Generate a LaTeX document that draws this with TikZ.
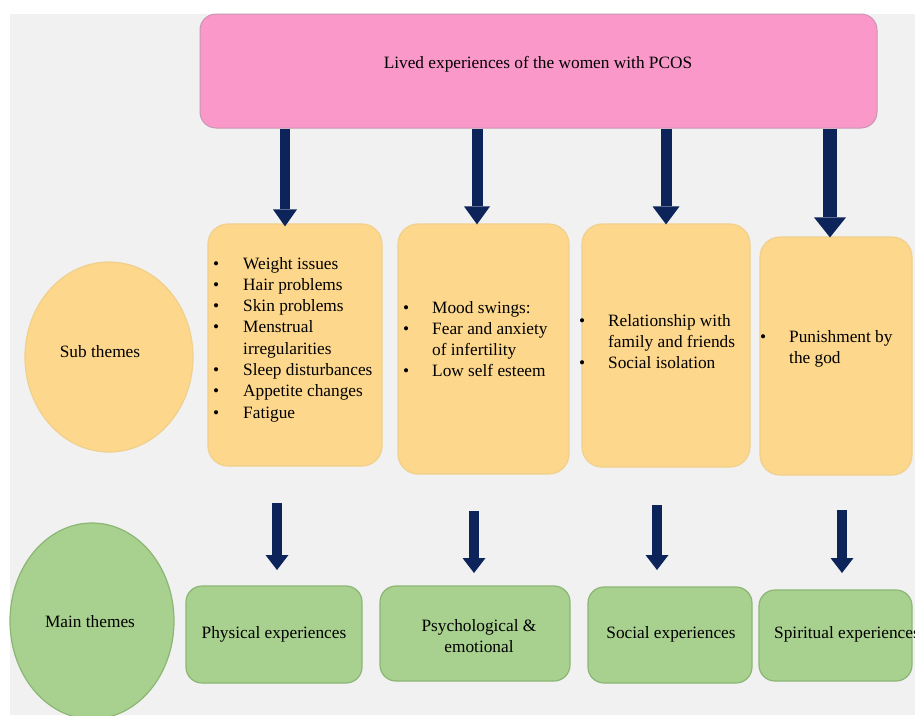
\documentclass[tikz,border=0pt]{standalone}
\usepackage{fontspec}
\setmainfont{Liberation Serif}
\usetikzlibrary{arrows.meta,shapes.geometric,calc}
\definecolor{navy}{RGB}{13,36,90}
\definecolor{pinkfill}{RGB}{250,152,202}
\definecolor{pinkline}{RGB}{200,150,178}
\definecolor{yfill}{RGB}{253,215,140}
\definecolor{yline}{RGB}{240,208,140}
\definecolor{gfill}{RGB}{168,208,142}
\definecolor{gline}{RGB}{140,182,115}
\definecolor{bggray}{RGB}{241,241,241}
\begin{document}
\begin{tikzpicture}[x=1pt,y=-1pt,
  txt/.style={font=\fontsize{17.3}{21.3}\selectfont, inner sep=0pt},
  pbox/.style={draw=pinkline, fill=pinkfill, rounded corners=16pt, line width=1pt},
  ybox/.style={draw=yline, fill=yfill, rounded corners=20pt, line width=1.2pt},
  gbox/.style={draw=gline, fill=gfill, rounded corners=16pt, line width=1.2pt},
  yell/.style={ellipse, draw=yline, fill=yfill, line width=1.2pt},
  gell/.style={ellipse, draw=gline, fill=gfill, line width=1.2pt},
  bigarr/.style n args={3}{draw=navy, line width=#1, -{Triangle[width=#2,length=#3,line width=0pt]}},
]
\useasboundingbox (0,0) rectangle (915,715);
\clip (0,0) rectangle (915,715);
\fill[white] (0,0) rectangle (915,715);
\fill[bggray] (10,14) rectangle (915,715);

% top box
\node[pbox, minimum width=677pt, minimum height=114pt] (top) at (538.5,71) {};
\node[txt] (toptext) at (538,64) {Lived experiences of the women with PCOS};

% sub theme boxes
\node[ybox, minimum width=174pt, minimum height=242pt] (s1) at (295,345) {};
\node[ybox, minimum width=171pt, minimum height=250pt] (s2) at (483.5,349) {};
\node[ybox, minimum width=168pt, minimum height=243pt] (s3) at (666,345.5) {};
\node[ybox, minimum width=152pt, minimum height=238pt] (s4) at (836,356) {};

% ellipses
\node[yell, minimum width=168pt, minimum height=190pt] (subell) at (109,357) {};
\node[txt] (subtxt) at (100,352) {Sub themes};
\node[gell, minimum width=164pt, minimum height=196pt] (mainell) at (92,621) {};
\node[txt] (maintxt) at (90,622) {Main themes};

% main theme boxes
\node[gbox, minimum width=176pt, minimum height=97pt] (g1) at (274,634.5) {};
\node[gbox, minimum width=190pt, minimum height=95pt] (g2) at (475,633.5) {};
\node[gbox, minimum width=164pt, minimum height=96pt] (g3) at (670,635) {};
\node[gbox, minimum width=153pt, minimum height=91pt] (g4) at (835.5,635.5) {};

\node[txt] (g1t) at (274,634) {Physical experiences};
\node[txt, align=center] (g2t) at (479,636) {Psychological \&\\emotional};
\node[txt] (g3t) at (671,634) {Social experiences};
\node[txt, anchor=west] (g4t) at (774,634) {Spiritual experiences};

% bullet lists
\node[txt, anchor=base west] (l1) at (213,269) {\begin{tabular}[t]{@{}p{30pt}@{}l@{}}
\textbullet & Weight issues\\
\textbullet & Hair problems\\
\textbullet & Skin problems\\
\textbullet & Menstrual\\
 & irregularities\\
\textbullet & Sleep disturbances\\
\textbullet & Appetite changes\\
\textbullet & Fatigue
\end{tabular}};
\node[txt, anchor=base west] (l2) at (403,313) {\begin{tabular}[t]{@{}p{29pt}@{}l@{}}
\textbullet & Mood swings:\\
\textbullet & Fear and anxiety\\
 & of infertility\\
\textbullet & Low self esteem
\end{tabular}};
\node[txt, anchor=base west] (l3) at (579,326) {\begin{tabular}[t]{@{}p{29pt}@{}l@{}}
\textbullet & Relationship with\\
 & family and friends\\
\textbullet & Social isolation
\end{tabular}};
\node[txt, anchor=base west] (l4) at (760,342) {\begin{tabular}[t]{@{}p{29pt}@{}l@{}}
\textbullet & Punishment by\\
 & the god
\end{tabular}};

% top arrows
\coordinate (a1) at (285,0);
\coordinate (a2) at (477,0);
\coordinate (a3) at (666,0);
\coordinate (a4) at (830,0);
\draw[bigarr={10pt}{24pt}{17pt}] (top.south -| a1) -- ($(a1 |- s1.north)+(0,3)$);
\draw[bigarr={11pt}{26pt}{18pt}] (top.south -| a2) -- ($(a2 |- s2.north)+(0,1)$);
\draw[bigarr={11pt}{27pt}{18pt}] (top.south -| a3) -- ($(a3 |- s3.north)+(0,1)$);
\draw[bigarr={14pt}{32pt}{20pt}] (top.south -| a4) -- ($(a4 |- s4.north)+(0,1)$);

% bottom arrows
\coordinate (b1s) at (277,503);
\coordinate (b1e) at (277,570);
\coordinate (b2s) at (474,511);
\coordinate (b2e) at (474,573);
\coordinate (b3s) at (657,505);
\coordinate (b3e) at (657,570);
\coordinate (b4s) at (842,510);
\coordinate (b4e) at (842,573);
\draw[bigarr={10pt}{23pt}{15pt}] (b1s) -- (b1e);
\draw[bigarr={10pt}{23pt}{15pt}] (b2s) -- (b2e);
\draw[bigarr={10pt}{23pt}{15pt}] (b3s) -- (b3e);
\draw[bigarr={10pt}{23pt}{15pt}] (b4s) -- (b4e);
\end{tikzpicture}
\end{document}
